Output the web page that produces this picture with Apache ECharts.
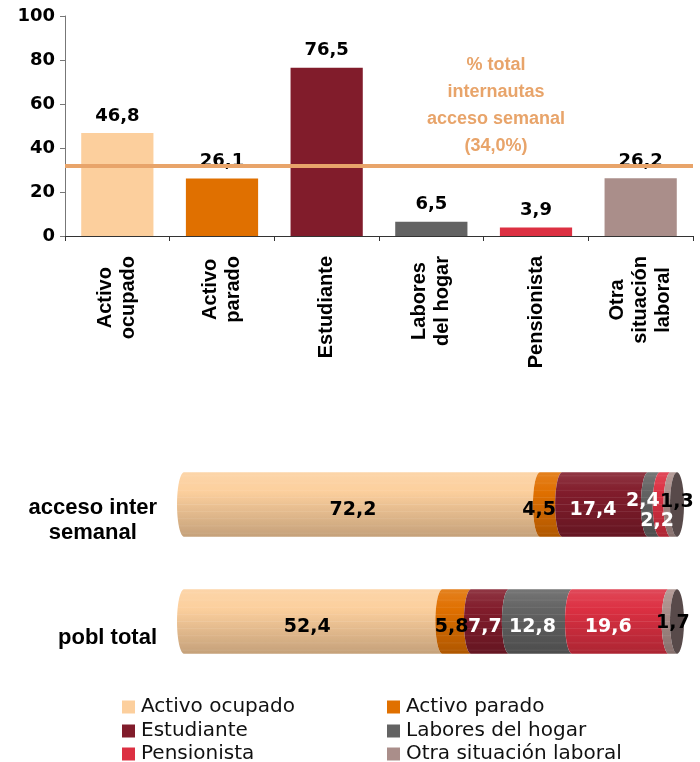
<!DOCTYPE html>
<html><head><meta charset="utf-8">
<script src="https://cdn.jsdelivr.net/npm/echarts@6/dist/echarts.min.js"></script>
<style>html,body{margin:0;padding:0;background:#fff}#c{width:700px;height:762px}</style>
</head><body><div id="c"></div><script>
// ---------- data ----------
const categories = ['Activo ocupado','Activo parado','Estudiante','Labores del hogar','Pensionista','Otra situación laboral'];
const axisLabels = ['Activo\nocupado','Activo\nparado','Estudiante','Labores\ndel hogar','Pensionista','Otra\nsituación\nlaboral'];
const pctInternautas = [46.8, 26.1, 76.5, 6.5, 3.9, 26.2];
const refLineValue = 32;
const refLineText = '% total\ninternautas\nacceso semanal\n(34,0%)';
const yMin = 0, yMax = 100, yInterval = 20;
const stackCats = ['acceso inter\nsemanal', 'pobl total'];
const accesoSemanal = [72.2, 4.5, 17.4, 2.4, 2.2, 1.3];
const poblTotal = [52.4, 5.8, 7.7, 12.8, 19.6, 1.7];

// ---------- style ----------
const colors = ['#FCCF9D','#E07000','#811C2B','#636363','#DC3042','#AA8E8A'];
const labelFill = ['#000','#000','#fff','#fff','#fff','#000'];
const refColor = '#E8A46A';
const capColor = '#584A4A';
const RX = 7, LIFT = 16, BAR_RATIO = 0.55;
// label offsets [dx, dy] relative to (segment centre, category centre)
const labelOffsets = {
  '0-0':[-9,-10],'0-1':[-12,-10],'0-2':[-12,-10],'0-3':[-11,-19],'0-4':[-8,1],'0-5':[3,-18],
  '1-0':[-6,-10],'1-1':[-5,-10],'1-2':[-5,-10],'1-3':[-8,-10],'1-4':[-12,-10],'1-5':[0,-14]
};
// legend grid: column lefts and row tops (layout only)
const legendCols = [122, 387];
const legendRows = [697, 721, 744];

function hex(c){c=c.replace('#','');if(c.length===3)c=c.split('').map(x=>x+x).join('');return [0,2,4].map(i=>parseInt(c.substr(i,2),16));}
function toHex(a){return '#'+a.map(v=>Math.max(0,Math.min(255,Math.round(v))).toString(16).padStart(2,'0')).join('');}
function mix(c1,c2,t){const a=hex(c1),b=hex(c2);return toHex(a.map((v,i)=>v+(b[i]-v)*t));}
function baseAt(c,t){ if(t<0.3) return mix(mix(c,'#ffffff',0.12),c,t/0.3); return mix(c,mix(c,'#000000',0.22),(t-0.3)/0.7); }
function segStops(c){
  const stops=[];const n=9;
  for(let i=0;i<=n;i++){
    const t=i/n; stops.push({offset:t,color:baseAt(c,t)});
    if(i<n){const m=t+0.5/n;
      stops.push({offset:m-0.012,color:baseAt(c,m-0.012)});
      stops.push({offset:m,color:mix(baseAt(c,m),'#ffffff',0.1)});
      stops.push({offset:m+0.012,color:baseAt(c,m+0.012)});}
  }
  return stops;
}
const rows = [accesoSemanal, poblTotal];
function segData(k){
  return rows.map((r,ri)=>{const s=r.slice(0,k).reduce((a,b)=>a+b,0);return [ri,s,s+r[k],r[k]];});
}
function fmt(v){return String(v).replace('.',',');}

function makeSegRender(k){
  return function(params, api){
    const ri=api.value(0), s=api.value(1), e=api.value(2);
    const a=api.coord([s,ri]), b=api.coord([e,ri]);
    const hh=api.size([0,1])[1]*BAR_RATIO/2;
    const cy=a[1]-LIFT;
    const pts=[];
    for(let i=0;i<=24;i++){const th=-Math.PI/2+Math.PI*i/24;pts.push([a[0]-RX*Math.cos(th),cy+hh*Math.sin(th)]);}
    for(let i=0;i<=24;i++){const th=Math.PI/2-Math.PI*i/24;pts.push([b[0]-RX*Math.cos(th),cy+hh*Math.sin(th)]);}
    const children=[{type:'polygon',shape:{points:pts},style:{fill:{type:'linear',x:0,y:0,x2:0,y2:1,colorStops:segStops(colors[k])}}}];
    if(k===categories.length-1){
      const ep=[];
      for(let i=0;i<48;i++){const th=2*Math.PI*i/48;ep.push([b[0]+RX*Math.cos(th),cy+hh*Math.sin(th)]);}
      children.push({type:'polygon',shape:{points:ep},style:{fill:capColor}});
    }
    return {type:'group',children};
  };
}

const labelData=[];
rows.forEach((r,ri)=>{let s=0;r.forEach((v,k)=>{labelData.push([ri,s,s+v,v,k]);s+=v;});});

const segSeries = categories.map((name,k)=>({
  type:'custom', name, xAxisIndex:1, yAxisIndex:1, data:segData(k),
  encode:{x:[1,2],y:0}, renderItem:makeSegRender(k), itemStyle:{color:colors[k]}, z:2, silent:true
}));

const labelSeries = {
  type:'custom', name:'etiquetas', xAxisIndex:1, yAxisIndex:1, data:labelData, encode:{x:[1,2],y:0}, z:5, silent:true,
  renderItem:function(params,api){
    const ri=api.value(0),s=api.value(1),e=api.value(2),v=api.value(3),k=api.value(4);
    const a=api.coord([(s+e)/2,ri]);
    const off=labelOffsets[ri+'-'+k]||[0,0];
    return {type:'text',x:a[0]+off[0],y:a[1]+off[1],style:{text:fmt(v),fill:labelFill[k],
      font:'bold 19px "DejaVu Sans"',align:'center',verticalAlign:'middle'}};
  }
};

const legendText = {fontFamily:'DejaVu Sans',fontSize:20,color:'#111',padding:[0,0,0,1]};
const legends = categories.map((name,k)=>({
  orient:'horizontal', left:legendCols[k%2], top:legendRows[Math.floor(k/2)],
  itemWidth:13, itemHeight:13, icon:'rect', padding:0, data:[name], textStyle:legendText, selectedMode:false
}));

const chart = echarts.init(document.getElementById('c'), null, {renderer:'canvas'});
chart.setOption({
  animation:false,
  grid:[
    {left:65, right:7, top:16, bottom:526},
    {left:184, right:23, top:462, bottom:66}
  ],
  xAxis:[
    {gridIndex:0, type:'category', data:axisLabels,
     axisLine:{lineStyle:{color:'#333',width:1}},
     axisTick:{show:true,length:5,lineStyle:{color:'#333'}},
     axisLabel:{interval:0, rotate:90, margin:20, color:'#000',
       fontFamily:'Liberation Sans', fontWeight:'bold', fontSize:20, lineHeight:23,
       formatter:v=>'{c|'+v+'}',
       rich:{c:{align:'center',fontFamily:'Liberation Sans',fontWeight:'bold',fontSize:20,lineHeight:23,color:'#000'}}}},
    {gridIndex:1, type:'value', min:0, max:100, show:false}
  ],
  yAxis:[
    {gridIndex:0, type:'value', min:yMin, max:yMax, interval:yInterval,
     axisLine:{show:true,lineStyle:{color:'#777'}}, axisTick:{show:true,length:5,lineStyle:{color:'#777'}},
     splitLine:{show:false},
     axisLabel:{margin:10,color:'#000',fontFamily:'DejaVu Sans',fontWeight:'bold',fontSize:18}},
    {gridIndex:1, type:'category', data:stackCats, inverse:true,
     axisLine:{show:false}, axisTick:{show:false},
     axisLabel:{margin:27,color:'#000',fontFamily:'Liberation Sans',fontWeight:'bold',fontSize:22,lineHeight:25,
       formatter:v=>'{c|'+v+'}',
       rich:{c:{align:'center',fontFamily:'Liberation Sans',fontWeight:'bold',fontSize:22,lineHeight:25,color:'#000'}}}}
  ],
  legend:legends,
  graphic:[
    {type:'text', x:496, y:52, z:10, style:{text:refLineText, fill:refColor, align:'center', verticalAlign:'top',
      font:'bold 18px "Liberation Sans"', lineHeight:27}}
  ],
  series:[
    {type:'bar', name:'internautas', xAxisIndex:0, yAxisIndex:0, barCategoryGap:'31%',
     data:pctInternautas.map((v,i)=>({value:v,itemStyle:{color:colors[i]}})),
     label:{show:true,position:'top',distance:8,color:'#000',fontFamily:'DejaVu Sans',fontWeight:'bold',fontSize:18,
       formatter:p=>fmt(p.value)},
     markLine:{silent:true,symbol:'none',label:{show:false},lineStyle:{color:refColor,width:4,type:'solid'},
       data:[{yAxis:refLineValue}]}},
    ...segSeries,
    labelSeries
  ]
});
</script></body></html>
